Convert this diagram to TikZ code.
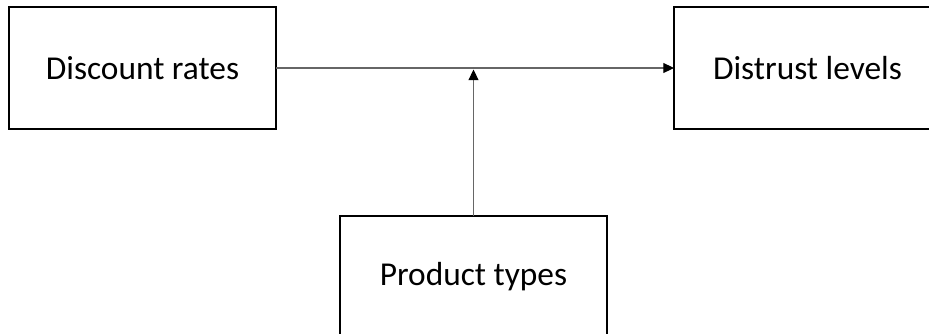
\documentclass[tikz,border=0pt]{standalone}
\usepackage{fontspec}
\setmainfont{Carlito}
\usepackage{tikz}
\usetikzlibrary{arrows.meta,positioning,calc}

\begin{document}
\begin{tikzpicture}[
    font=\fontsize{19}{23}\selectfont,
    box/.style={draw, line width=0.85pt, align=center, minimum width=5.34cm, minimum height=2.44cm, outer sep=0pt},
    arr/.style={-{Triangle[length=6pt, width=5.6pt, color=black]}, line width=0.6pt, draw=black!60}
]
\clip (0,0) rectangle (18.58,-6.66);
\node[box] (rates) at (2.85,-1.36) {Discount rates};
\node[box, right=7.96cm of rates] (distrust) {Distrust levels};
\node[box, below=2.96cm of $(rates)!0.5!(distrust)$, xshift=-0.03cm] (types) {Product types};

\draw[arr] (rates) -- (distrust);
\draw[arr] (types) -- ($(types |- rates.east)+(0,-0.03)$);
\end{tikzpicture}
\end{document}
